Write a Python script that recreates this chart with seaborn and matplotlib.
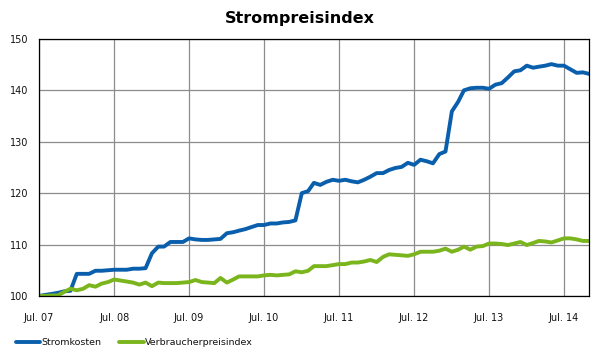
import pandas as pd
import matplotlib.pyplot as plt
import matplotlib.dates as mdates
from matplotlib.ticker import MultipleLocator
import seaborn as sns

# Monthly index values, Jul 2007 .. Nov 2014
start_month = '2007-07-01'
stromkosten = [
    100.0, 100.2, 100.4, 100.6, 100.9, 101.0, 104.3, 104.3, 104.3, 104.9,
    104.9, 105.0, 105.1, 105.1, 105.1, 105.3, 105.3, 105.4, 108.3, 109.6,
    109.6, 110.5, 110.5, 110.5, 111.2, 111.0, 110.9, 110.9, 111.0, 111.1,
    112.2, 112.4, 112.7, 113.0, 113.4, 113.8, 113.8, 114.1, 114.1, 114.3,
    114.4, 114.7, 120.0, 120.4, 122.0, 121.6, 122.2, 122.6, 122.4, 122.6,
    122.3, 122.1, 122.6, 123.2, 123.9, 123.9, 124.5, 124.9, 125.1, 125.9,
    125.5, 126.5, 126.2, 125.8, 127.6, 128.1, 135.9, 137.8, 140.0, 140.4,
    140.5, 140.5, 140.3, 141.1, 141.4, 142.5, 143.7, 143.9, 144.8, 144.4,
    144.6, 144.8, 145.1, 144.8, 144.8, 144.1, 143.4, 143.5, 143.2,
]
verbraucherpreisindex = [
    100.0, 100.0, 100.1, 100.1, 100.8, 101.4, 101.1, 101.4, 102.1, 101.8,
    102.4, 102.7, 103.2, 103.0, 102.8, 102.6, 102.2, 102.6, 101.9, 102.6,
    102.5, 102.5, 102.5, 102.6, 102.7, 103.1, 102.7, 102.6, 102.5, 103.5,
    102.6, 103.2, 103.8, 103.8, 103.8, 103.8, 104.0, 104.1, 104.0, 104.1,
    104.2, 104.8, 104.6, 104.9, 105.8, 105.8, 105.8, 106.0, 106.2, 106.2,
    106.5, 106.5, 106.7, 107.0, 106.6, 107.6, 108.1, 108.0, 107.9, 107.8,
    108.1, 108.6, 108.6, 108.6, 108.8, 109.2, 108.6, 109.0, 109.6, 109.0,
    109.6, 109.7, 110.2, 110.2, 110.1, 109.9, 110.2, 110.5, 109.9, 110.3,
    110.7, 110.6, 110.4, 110.8, 111.2, 111.2, 111.0, 110.7, 110.7,
]
series_names = ['Stromkosten', 'Verbraucherpreisindex']
colors = ['#0a5fad', '#7ab51d']

months = pd.date_range(start_month, periods=len(stromkosten), freq='MS')
df = pd.DataFrame({'Monat': months,
                   series_names[0]: stromkosten,
                   series_names[1]: verbraucherpreisindex})
df_long = df.melt(id_vars='Monat', var_name='Reihe', value_name='Index')

sns.set_style('white')
plt.rcParams['font.family'] = ['DejaVu Sans']
plt.rcParams['text.color'] = 'black'

fig = plt.figure(figsize=(6, 3.54), dpi=100)
ax = fig.add_axes([0.065, 0.164, 0.917, 0.726])

sns.lineplot(data=df_long, x='Monat', y='Index', hue='Reihe',
             palette=colors, linewidth=2.8, ax=ax, legend=False)

ax.set_xlim(months[0], months[-1])
ax.set_ylim(100, 150)
ax.yaxis.set_major_locator(MultipleLocator(10))
ax.yaxis.set_minor_locator(MultipleLocator(5))
ax.xaxis.set_major_locator(mdates.MonthLocator(bymonth=7))
ax.xaxis.set_minor_locator(mdates.MonthLocator(bymonth=1))
ax.xaxis.set_major_formatter(mdates.DateFormatter('%b. %y'))

ax.grid(True, which='major', color='#8c8c8c', linewidth=0.9)
ax.set_axisbelow(True)
ax.tick_params(axis='both', which='both', direction='out', length=4,
               width=0.8, color='black', labelsize=7, labelcolor='#111111')
ax.tick_params(axis='x', pad=8)
for s in ax.spines.values():
    s.set_color('black')
    s.set_linewidth(0.9)
ax.set_xlabel('')
ax.set_ylabel('')

fig.suptitle('Strompreisindex', x=0.5, y=0.97, fontsize=11.5,
             fontweight='bold', color='black')

handles = [plt.Line2D([], [], color=c, linewidth=2.8) for c in colors]
fig.legend(handles, series_names, loc='lower left', bbox_to_anchor=(0.012, -0.005),
           ncol=2, frameon=False, fontsize=6.8, handlelength=2.6,
           handletextpad=0.1, columnspacing=1.9, labelcolor='#111111')

fig.savefig('out.png', dpi=100)
